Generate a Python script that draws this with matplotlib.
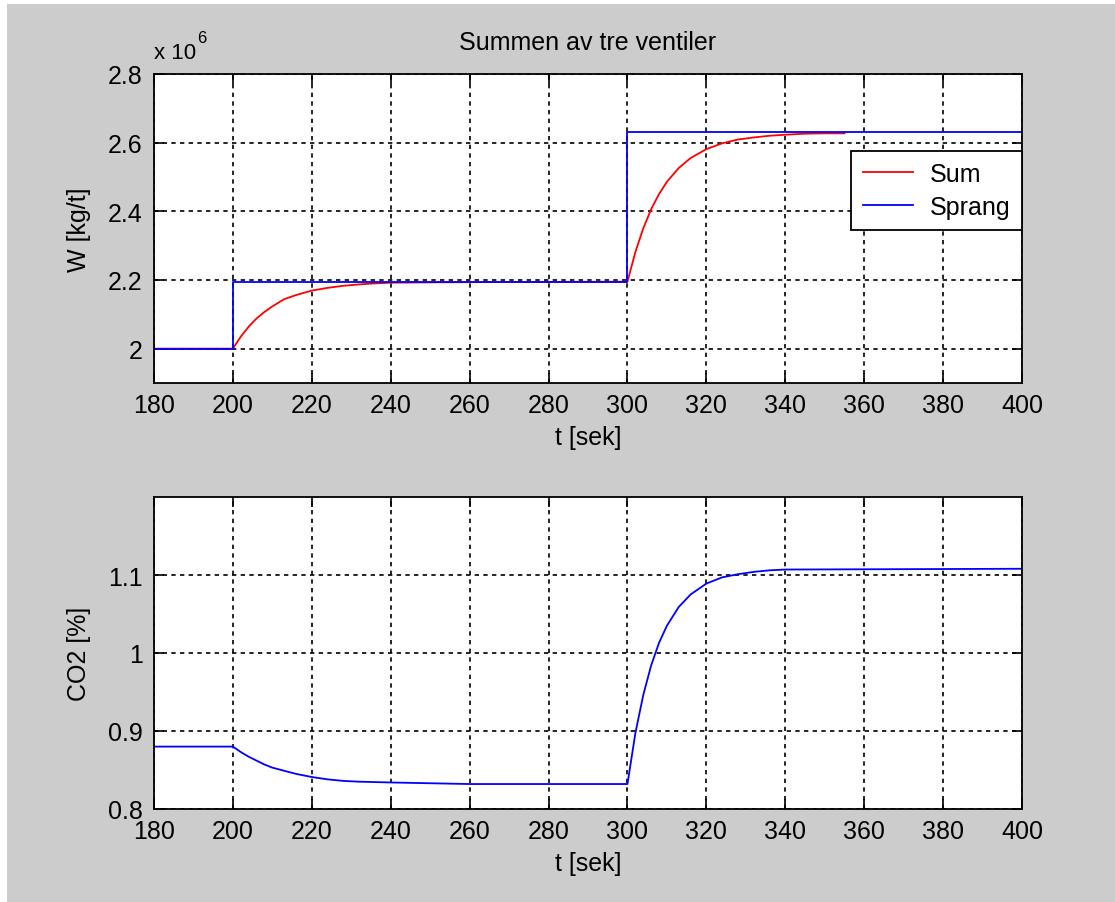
import matplotlib
matplotlib.use("Agg")
import matplotlib.pyplot as plt
from matplotlib.patches import Rectangle

# W in units of 1e6 kg/t
sum_t = [180, 200, 202, 204, 206, 208, 210, 213, 216, 220, 224, 228, 232, 236, 240, 250, 270, 300,
         302, 304, 306, 308, 310, 313, 316, 320, 324, 328, 332, 336, 340, 345, 350, 355]
sum_w = [2.000, 2.000, 2.035, 2.064, 2.088, 2.107, 2.123, 2.144, 2.156, 2.169, 2.177, 2.183, 2.187,
         2.190, 2.192, 2.193, 2.194, 2.195,
         2.281, 2.350, 2.406, 2.450, 2.486, 2.526, 2.555, 2.581, 2.598, 2.609, 2.615, 2.620, 2.623,
         2.626, 2.627, 2.627]

sprang_t = [180, 200, 200, 300, 300, 400]
sprang_w = [2.000, 2.000, 2.195, 2.195, 2.632, 2.632]

co2_t = [180, 200, 202, 204, 206, 208, 210, 213, 216, 220, 224, 228, 232, 240, 250, 260, 300,
         302, 304, 306, 308, 310, 313, 316, 320, 324, 328, 332, 336, 340, 400]
co2 = [0.880, 0.880, 0.873, 0.867, 0.862, 0.857, 0.853, 0.849, 0.845, 0.841, 0.838, 0.836, 0.835,
       0.834, 0.833, 0.832, 0.832,
       0.897, 0.946, 0.984, 1.013, 1.035, 1.059, 1.075, 1.089, 1.097, 1.101, 1.104, 1.106, 1.107, 1.108]

xticks = [180, 200, 220, 240, 260, 280, 300, 320, 340, 360, 380, 400]
w_ticks = [2.0, 2.2, 2.4, 2.6, 2.8]
w_labels = ["2", "2.2", "2.4", "2.6", "2.8"]
co2_ticks = [0.8, 0.9, 1.0, 1.1]
co2_labels = ["0.8", "0.9", "1", "1.1"]

plt.rcParams['font.family'] = ['Liberation Sans', 'DejaVu Sans']
plt.rcParams['font.size'] = 18

fig = plt.figure(figsize=(11.15, 9.03), dpi=100, facecolor='white')
fig.patches.append(Rectangle((7 / 1115, 0), 1, 1 - 5 / 903, transform=fig.transFigure,
                             facecolor='#cccccc', edgecolor='none', zorder=-10))

ax1 = fig.add_axes([0.1381, 0.5748, 0.7785, 0.3422])
ax2 = fig.add_axes([0.1381, 0.1030, 0.7785, 0.3455])


def style(ax):
    ax.set_xlim(180, 400)
    ax.set_xticks(xticks)
    ax.grid(True, color='black', linestyle=(0, (2.6, 2.6)), linewidth=1.2)
    ax.tick_params(direction='in', top=True, right=True, length=7, width=1.2,
                   labelsize=18, pad=7)
    ax.tick_params(axis='y', pad=8)
    for s in ax.spines.values():
        s.set_linewidth(1.3)
    ax.set_xlabel("t [sek]", fontsize=18, labelpad=6)


ax1.plot(sum_t, sum_w, color='#ff0000', linewidth=1.3, label='Sum')
ax1.plot(sprang_t, sprang_w, color='#0000ff', linewidth=1.3, label='Sprang')
style(ax1)
ax1.set_ylim(1.9, 2.8)
ax1.set_yticks(w_ticks)
ax1.set_yticklabels(w_labels)
ax1.set_ylabel("W [kg/t]", fontsize=18, labelpad=12)
ax1.set_title("Summen av tre ventiler", fontsize=18, pad=18)
ax1.text(0.0, 1.035, "x 10", transform=ax1.transAxes, fontsize=16, ha='left', va='bottom')
ax1.text(0.05, 1.095, "6", transform=ax1.transAxes, fontsize=12, ha='left', va='bottom')
leg = ax1.legend(loc='upper right', bbox_to_anchor=(1.0, 0.751), borderaxespad=0,
                 fancybox=False, edgecolor='black', framealpha=1, fontsize=18,
                 handlelength=2.0, handletextpad=0.7, borderpad=0.45, labelspacing=0.35)
leg.get_frame().set_linewidth(1.3)

ax2.plot(co2_t, co2, color='#0000ff', linewidth=1.3)
style(ax2)
ax2.set_ylim(0.8, 1.2)
ax2.set_yticks(co2_ticks)
ax2.set_yticklabels(co2_labels)
ax2.set_ylabel("CO2 [%]", fontsize=18, labelpad=12)

fig.savefig("out.png", dpi=100, facecolor=fig.get_facecolor())
